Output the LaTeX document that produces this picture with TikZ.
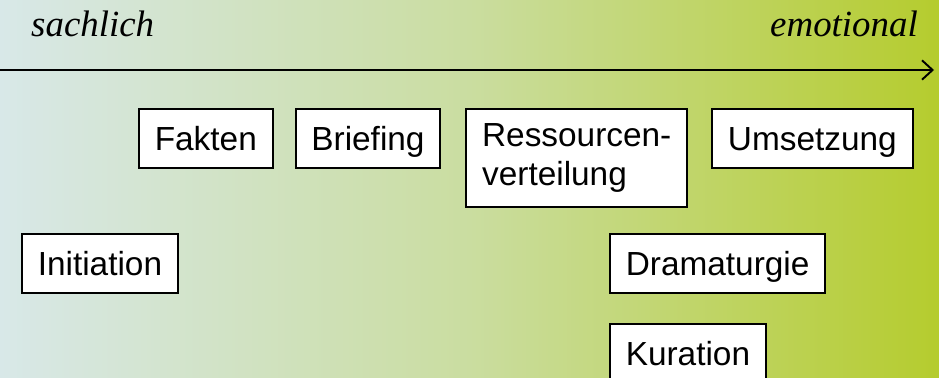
\documentclass[tikz,border=0pt]{standalone}
\usepackage{fontspec}
\setmainfont{Liberation Serif}
\setsansfont{Liberation Sans}
\usetikzlibrary{positioning, arrows.meta}
\definecolor{bgleft}{RGB}{216, 232, 232}
\definecolor{bgmid}{RGB}{202, 221, 160}
\definecolor{bgright}{RGB}{181, 204, 46}
\pgfdeclarehorizontalshading{bgshade}{100bp}{color(0bp)=(bgleft); color(25bp)=(bgleft);
    color(50bp)=(bgmid); color(75bp)=(bgright); color(100bp)=(bgright)}

\begin{document}
\begin{tikzpicture}[
    x=0.02cm, y=-0.02cm,
    phase/.style={rectangle, draw=black, line width=1.1pt, fill=white,
                  font=\sffamily\fontsize{19}{21}\selectfont, align=left,
                  inner xsep=9pt, inner ysep=7pt, minimum height=33.5pt},
    oneline/.style={phase, text height=14pt, text depth=0pt},
    twoline/.style={phase, font=\sffamily\fontsize{19}{22}\selectfont, inner ysep=8.5pt},
    pole/.style={font=\itshape\fontsize{21}{24}\selectfont},
    timeline/.style={-{Straight Barb[length=6pt, width=11pt]}, line width=1.1pt}
]
    % Background
    \useasboundingbox (0,0) rectangle (939,378);
    \clip (0,0) rectangle (939,378);
    \shade[shading=bgshade] (0,0) rectangle (939,378);

    % Axis
    \node[pole, anchor=base west] (sachlich) at (25,37) {sachlich};
    \node[pole, anchor=base east] (emotional) at (924,37) {emotional};
    \coordinate (axstart) at (0,70);
    \coordinate (axend) at (934,70);
    \draw[timeline] (axstart) -- (axend);

    % Phases
    \node[oneline, anchor=north west] (fakten) at (138,108) {Fakten};
    \node[oneline, right=0.42cm of fakten] (briefing) {Briefing};
    \node[twoline, right=0.48cm of briefing.north east, anchor=north west] (ressourcen) {Ressourcen-\\verteilung};
    \node[oneline, right=0.46cm of ressourcen.north east, anchor=north west] (umsetzung) {Umsetzung};
    \node[oneline, anchor=north west] (initiation) at (21,233) {Initiation};
    \node[oneline, anchor=north west] (dramaturgie) at (609,233) {Dramaturgie};
    \node[oneline, below=0.58cm of dramaturgie.south west, anchor=north west] (kuration) {Kuration};

\end{tikzpicture}
\end{document}
